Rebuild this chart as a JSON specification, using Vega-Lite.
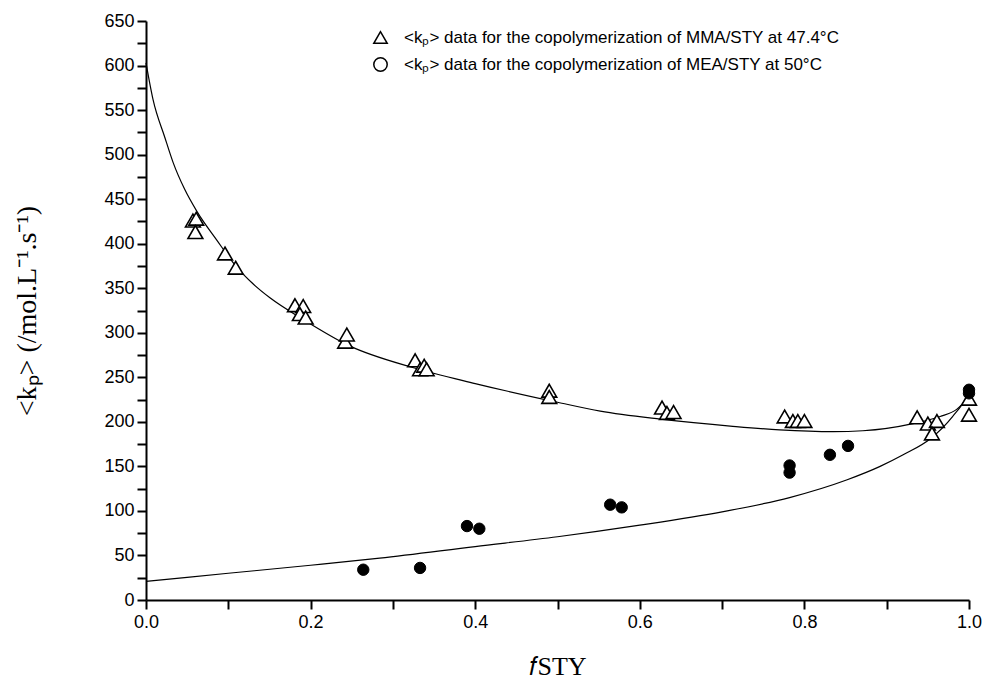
{
  "$schema": "https://vega.github.io/schema/vega-lite/v6.json",
  "width": 823,
  "height": 579,
  "autosize": {"type": "none"},
  "padding": {"left": 146, "top": 21, "right": 18, "bottom": 91},
  "background": "white",
  "config": {
    "view": {"stroke": null},
    "font": "Liberation Sans"
  },
  "datasets": {
    "mma": [
      {"f": 0.057, "kp": 426, "series": "<kₚ> data for the copolymerization of MMA/STY at 47.4°C"},
      {"f": 0.061, "kp": 428, "series": "<kₚ> data for the copolymerization of MMA/STY at 47.4°C"},
      {"f": 0.060, "kp": 413, "series": "<kₚ> data for the copolymerization of MMA/STY at 47.4°C"},
      {"f": 0.096, "kp": 389, "series": "<kₚ> data for the copolymerization of MMA/STY at 47.4°C"},
      {"f": 0.109, "kp": 373, "series": "<kₚ> data for the copolymerization of MMA/STY at 47.4°C"},
      {"f": 0.181, "kp": 331, "series": "<kₚ> data for the copolymerization of MMA/STY at 47.4°C"},
      {"f": 0.191, "kp": 330, "series": "<kₚ> data for the copolymerization of MMA/STY at 47.4°C"},
      {"f": 0.187, "kp": 321, "series": "<kₚ> data for the copolymerization of MMA/STY at 47.4°C"},
      {"f": 0.194, "kp": 317, "series": "<kₚ> data for the copolymerization of MMA/STY at 47.4°C"},
      {"f": 0.242, "kp": 290, "series": "<kₚ> data for the copolymerization of MMA/STY at 47.4°C"},
      {"f": 0.244, "kp": 298, "series": "<kₚ> data for the copolymerization of MMA/STY at 47.4°C"},
      {"f": 0.327, "kp": 269, "series": "<kₚ> data for the copolymerization of MMA/STY at 47.4°C"},
      {"f": 0.333, "kp": 259, "series": "<kₚ> data for the copolymerization of MMA/STY at 47.4°C"},
      {"f": 0.338, "kp": 263, "series": "<kₚ> data for the copolymerization of MMA/STY at 47.4°C"},
      {"f": 0.341, "kp": 259, "series": "<kₚ> data for the copolymerization of MMA/STY at 47.4°C"},
      {"f": 0.490, "kp": 235, "series": "<kₚ> data for the copolymerization of MMA/STY at 47.4°C"},
      {"f": 0.490, "kp": 228, "series": "<kₚ> data for the copolymerization of MMA/STY at 47.4°C"},
      {"f": 0.627, "kp": 216, "series": "<kₚ> data for the copolymerization of MMA/STY at 47.4°C"},
      {"f": 0.633, "kp": 210, "series": "<kₚ> data for the copolymerization of MMA/STY at 47.4°C"},
      {"f": 0.641, "kp": 211, "series": "<kₚ> data for the copolymerization of MMA/STY at 47.4°C"},
      {"f": 0.776, "kp": 206, "series": "<kₚ> data for the copolymerization of MMA/STY at 47.4°C"},
      {"f": 0.786, "kp": 201, "series": "<kₚ> data for the copolymerization of MMA/STY at 47.4°C"},
      {"f": 0.792, "kp": 201, "series": "<kₚ> data for the copolymerization of MMA/STY at 47.4°C"},
      {"f": 0.800, "kp": 201, "series": "<kₚ> data for the copolymerization of MMA/STY at 47.4°C"},
      {"f": 0.937, "kp": 205, "series": "<kₚ> data for the copolymerization of MMA/STY at 47.4°C"},
      {"f": 0.950, "kp": 198, "series": "<kₚ> data for the copolymerization of MMA/STY at 47.4°C"},
      {"f": 0.961, "kp": 201, "series": "<kₚ> data for the copolymerization of MMA/STY at 47.4°C"},
      {"f": 0.955, "kp": 187, "series": "<kₚ> data for the copolymerization of MMA/STY at 47.4°C"},
      {"f": 1.0, "kp": 226, "series": "<kₚ> data for the copolymerization of MMA/STY at 47.4°C"},
      {"f": 1.0, "kp": 208, "series": "<kₚ> data for the copolymerization of MMA/STY at 47.4°C"}
    ],
    "mea": [
      {"f": 0.264, "kp": 34, "series": "<kₚ> data for the copolymerization of MEA/STY at 50°C"},
      {"f": 0.333, "kp": 36, "series": "<kₚ> data for the copolymerization of MEA/STY at 50°C"},
      {"f": 0.390, "kp": 83, "series": "<kₚ> data for the copolymerization of MEA/STY at 50°C"},
      {"f": 0.405, "kp": 80, "series": "<kₚ> data for the copolymerization of MEA/STY at 50°C"},
      {"f": 0.564, "kp": 107, "series": "<kₚ> data for the copolymerization of MEA/STY at 50°C"},
      {"f": 0.578, "kp": 104, "series": "<kₚ> data for the copolymerization of MEA/STY at 50°C"},
      {"f": 0.782, "kp": 151, "series": "<kₚ> data for the copolymerization of MEA/STY at 50°C"},
      {"f": 0.782, "kp": 143, "series": "<kₚ> data for the copolymerization of MEA/STY at 50°C"},
      {"f": 0.831, "kp": 163, "series": "<kₚ> data for the copolymerization of MEA/STY at 50°C"},
      {"f": 0.853, "kp": 173, "series": "<kₚ> data for the copolymerization of MEA/STY at 50°C"},
      {"f": 1.0, "kp": 236, "series": "<kₚ> data for the copolymerization of MEA/STY at 50°C"},
      {"f": 1.0, "kp": 232, "series": "<kₚ> data for the copolymerization of MEA/STY at 50°C"}
    ],
    "curves": [
      {"f": 0.0, "kp": 603, "curve": "MMA"},
      {"f": 0.0085, "kp": 562, "curve": "MMA"},
      {"f": 0.023, "kp": 519, "curve": "MMA"},
      {"f": 0.033, "kp": 491, "curve": "MMA"},
      {"f": 0.047, "kp": 461, "curve": "MMA"},
      {"f": 0.062, "kp": 436, "curve": "MMA"},
      {"f": 0.086, "kp": 404, "curve": "MMA"},
      {"f": 0.11, "kp": 374, "curve": "MMA"},
      {"f": 0.13, "kp": 355, "curve": "MMA"},
      {"f": 0.151, "kp": 339, "curve": "MMA"},
      {"f": 0.191, "kp": 315, "curve": "MMA"},
      {"f": 0.248, "kp": 285, "curve": "MMA"},
      {"f": 0.324, "kp": 261, "curve": "MMA"},
      {"f": 0.4, "kp": 243, "curve": "MMA"},
      {"f": 0.5, "kp": 222, "curve": "MMA"},
      {"f": 0.552, "kp": 212, "curve": "MMA"},
      {"f": 0.625, "kp": 203, "curve": "MMA"},
      {"f": 0.713, "kp": 195, "curve": "MMA"},
      {"f": 0.77, "kp": 191, "curve": "MMA"},
      {"f": 0.835, "kp": 189, "curve": "MMA"},
      {"f": 0.871, "kp": 190, "curve": "MMA"},
      {"f": 0.932, "kp": 198, "curve": "MMA"},
      {"f": 0.965, "kp": 206, "curve": "MMA"},
      {"f": 0.985, "kp": 214, "curve": "MMA"},
      {"f": 1.0, "kp": 228, "curve": "MMA"},
      {"f": 0.0, "kp": 21, "curve": "MEA"},
      {"f": 0.1, "kp": 30, "curve": "MEA"},
      {"f": 0.2, "kp": 39, "curve": "MEA"},
      {"f": 0.284, "kp": 47, "curve": "MEA"},
      {"f": 0.4, "kp": 60, "curve": "MEA"},
      {"f": 0.5, "kp": 71, "curve": "MEA"},
      {"f": 0.6, "kp": 84, "curve": "MEA"},
      {"f": 0.7, "kp": 99, "curve": "MEA"},
      {"f": 0.782, "kp": 115, "curve": "MEA"},
      {"f": 0.852, "kp": 135, "curve": "MEA"},
      {"f": 0.892, "kp": 150, "curve": "MEA"},
      {"f": 0.92, "kp": 163, "curve": "MEA"},
      {"f": 0.953, "kp": 181, "curve": "MEA"},
      {"f": 0.98, "kp": 206, "curve": "MEA"},
      {"f": 0.997, "kp": 228, "curve": "MEA"},
      {"f": 1.0, "kp": 234, "curve": "MEA"}
    ]
  },
  "encoding": {
    "x": {
      "field": "f", "type": "quantitative",
      "scale": {"domain": [0, 1], "nice": false, "zero": false},
      "axis": {
        "title": "𝑓STY",
        "titleFont": "Liberation Serif",
        "titleFontSize": 26,
        "titleFontWeight": "normal",
        "titleColor": "black",
        "titlePadding": 22,
        "values": [0, 0.1, 0.2, 0.3, 0.4, 0.5, 0.6, 0.7, 0.8, 0.9, 1.0],
        "labelExpr": "round(datum.value * 10) % 2 == 0 ? format(datum.value, '.1f') : ''",
        "labelFont": "Liberation Sans",
        "labelFontSize": 18,
        "labelColor": "black",
        "labelPadding": 4,
        "labelFlush": false,
        "labelOverlap": false,
        "tickSize": 9,
        "tickWidth": 2,
        "tickColor": "black",
        "domainColor": "black",
        "domainWidth": 2,
        "grid": false
      }
    },
    "y": {
      "field": "kp", "type": "quantitative",
      "scale": {"domain": [0, 650], "nice": false},
      "axis": {
        "title": "<kₚ> (/mol.L⁻¹.s⁻¹)",
        "titleFont": "Liberation Serif",
        "titleFontSize": 28,
        "titleFontWeight": "normal",
        "titleColor": "black",
        "titlePadding": 62,
        "values": [0, 25, 50, 75, 100, 125, 150, 175, 200, 225, 250, 275, 300, 325, 350, 375, 400, 425, 450, 475, 500, 525, 550, 575, 600, 625, 650],
        "labelExpr": "datum.value % 50 == 0 ? datum.label : ''",
        "labelFont": "Liberation Sans",
        "labelFontSize": 18,
        "labelColor": "black",
        "labelPadding": 3,
        "labelFlush": false,
        "labelOverlap": false,
        "tickSize": 9,
        "tickWidth": 2,
        "tickColor": "black",
        "domainColor": "black",
        "domainWidth": 2,
        "grid": false
      }
    }
  },
  "layer": [
    {
      "data": {"name": "curves"},
      "mark": {"type": "line", "color": "black", "strokeWidth": 1.2, "interpolate": "monotone"},
      "encoding": {
        "detail": {"field": "curve", "type": "nominal"}
      }
    },
    {
      "data": {"name": "mma"},
      "mark": {"type": "point", "filled": false, "stroke": "black", "fill": "white", "fillOpacity": 1, "strokeWidth": 1.6, "size": 220, "opacity": 1},
      "encoding": {
        "shape": {
          "field": "series", "type": "nominal",
          "scale": {
            "domain": ["<kₚ> data for the copolymerization of MMA/STY at 47.4°C", "<kₚ> data for the copolymerization of MEA/STY at 50°C"],
            "range": ["triangle-up", "circle"]
          },
          "legend": {
            "title": null,
            "orient": "none",
            "legendX": 226,
            "legendY": 8,
            "labelFont": "Liberation Sans",
            "labelFontSize": 17,
            "labelColor": "black",
            "labelOffset": 15,
            "rowPadding": 7,
            "labelLimit": 700,
            "symbolSize": 180,
            "encode": {
              "symbols": {
                "fill": {"signal": "indexof(datum.value, 'MMA') >= 0 ? 'white' : 'black'"},
                "fillOpacity": {"value": 1},
                "stroke": {"value": "black"},
                "strokeWidth": {"value": 1.6}
              }
            }
          }
        }
      }
    },
    {
      "data": {"name": "mea"},
      "mark": {"type": "point", "filled": true, "fill": "black", "stroke": "black", "strokeWidth": 1, "size": 130, "opacity": 1},
      "encoding": {
        "shape": {
          "field": "series", "type": "nominal",
          "scale": {
            "domain": ["<kₚ> data for the copolymerization of MMA/STY at 47.4°C", "<kₚ> data for the copolymerization of MEA/STY at 50°C"],
            "range": ["triangle-up", "circle"]
          },
          "legend": {
            "title": null,
            "orient": "none",
            "legendX": 226,
            "legendY": 8,
            "labelFont": "Liberation Sans",
            "labelFontSize": 17,
            "labelColor": "black",
            "labelOffset": 15,
            "rowPadding": 7,
            "labelLimit": 700,
            "symbolSize": 180,
            "encode": {
              "symbols": {
                "fill": {"signal": "indexof(datum.value, 'MMA') >= 0 ? 'white' : 'black'"},
                "fillOpacity": {"value": 1},
                "stroke": {"value": "black"},
                "strokeWidth": {"value": 1.6}
              }
            }
          }
        }
      }
    }
  ]
}
